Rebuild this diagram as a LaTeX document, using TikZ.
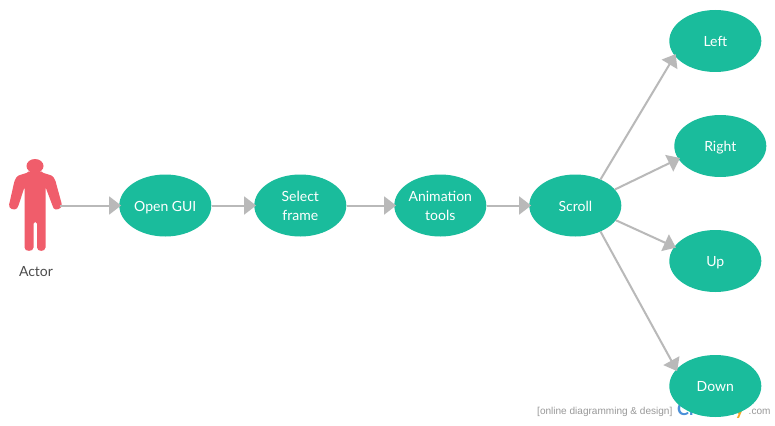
\documentclass[tikz,border=0pt]{standalone}
\usepackage{fontspec}
\setmainfont{Lato}
\newfontfamily\wmfont{Liberation Sans}
\usetikzlibrary{shapes.geometric,arrows.meta}
\definecolor{tealfill}{HTML}{1ABC9C}
\definecolor{actorred}{HTML}{F05D6B}
\definecolor{linegray}{HTML}{B9B9B9}
\definecolor{wmgray}{HTML}{999999}
\definecolor{logoblue}{HTML}{4A90D9}
\definecolor{logoorange}{HTML}{F5A623}
\tikzset{
  usecase/.style={ellipse,fill=tealfill,text=white,minimum width=92pt,minimum height=62pt,inner sep=0pt,align=center,font=\fontsize{14}{19}\selectfont},
  oneline/.style={usecase,align=none,text height=11.5pt,text depth=0pt},
  flow/.style={draw=linegray,line width=2pt,-{Triangle[length=12pt,width=18pt,fill=linegray]},shorten >=-2pt},
  wm/.style={text=wmgray,inner sep=0pt,font=\wmfont\fontsize{10.05}{11}\selectfont}
}
\begin{document}
\begin{tikzpicture}[x=1pt,y=-1pt]
\useasboundingbox (0,0) rectangle (775,425);
\fill[white] (0,0) rectangle (775,425);
% watermark, partly hidden by the Down ellipse
\node[wm,anchor=base west] (wmtext) at (537,414) {[online diagramming \& design]};
\node[anchor=base west,inner sep=0pt,font=\fontsize{18}{20}\selectfont\bfseries] (wmlogo) at (677,415.5) {\textcolor{logoblue}{Createl}\textcolor{logoorange}{y}};
\node[wm,anchor=base west] (wmcom) at (748.5,414.5) {.com};
% actor
\fill[actorred] (35,166) ellipse [x radius=8.5,y radius=7];
\fill[actorred,rounded corners=1.5pt]
  (29,171) -- (41,171) -- (42,172.5) -- (50,175)
  .. controls (53,176) and (55,179) .. (56,183)
  -- (61.5,203)
  .. controls (62.5,209) and (55,211) .. (53,207)
  -- (45.5,187) -- (45.5,246)
  .. controls (45.5,252) and (37,252) .. (37,246)
  -- (37,222) -- (33.5,222) -- (33.5,246)
  .. controls (33.5,252) and (24.5,252) .. (24.5,246)
  -- (24.5,187) -- (18,207)
  .. controls (15,211) and (8,209) .. (9.5,203)
  -- (14,183)
  .. controls (15,179) and (17,176) .. (20,175)
  -- (28,172.5) -- cycle;
\coordinate (hand) at (60,205.5);
\node[inner sep=0pt,text=black!70,font=\fontsize{14}{17}\selectfont] (actorlabel) at (36,271.5) {Actor};
% use cases
\node[oneline] (open) at (165.3,205.5) {Open GUI};
\node[usecase] (select) at (300.3,205.5) {Select\\frame};
\node[usecase] (anim) at (440.3,205.5) {Animation\\tools};
\node[oneline] (scroll) at (575.3,205.5) {Scroll};
\node[oneline] (left) at (715.3,41) {Left};
\node[oneline] (right) at (720.3,146) {Right};
\node[oneline] (up) at (715.3,261) {Up};
\node[oneline] (down) at (715.3,386) {Down};
% connectors
\draw[flow] (hand) -- (open.west);
\draw[flow] (open.east) -- (select.west);
\draw[flow] (select.east) -- (anim.west);
\draw[flow] (anim.east) -- (scroll.west);
\draw[flow] (scroll.46) -- (left.200);
\draw[flow] (scroll.22) -- (right.197);
\draw[flow] (scroll.-20) -- (up.161);
\draw[flow] (scroll.-46) -- (down.157);
\end{tikzpicture}
\end{document}
